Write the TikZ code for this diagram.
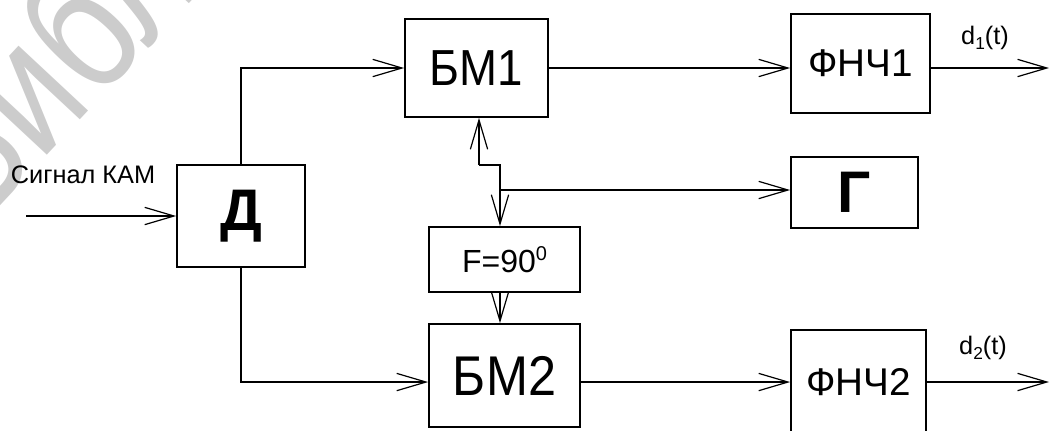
\documentclass[tikz,border=0pt]{standalone}
\usepackage{fontspec}
\setmainfont{Liberation Sans}
\usetikzlibrary{arrows.meta}
\begin{document}
\begin{tikzpicture}[x=0.75pt,y=-0.75pt,
  blk/.style={draw, line width=1.3pt, inner sep=0pt, rectangle},
  wire/.style={line width=1.3pt},
  arr/.style={wire, -{Straight Barb[length=22pt,width=13pt,line width=0.9pt]}},
  lbl/.style={inner sep=0pt}]
\useasboundingbox (0,0) rectangle (1051,430);
\clip (0,0) rectangle (1051,430);
% background watermark
\node[black!20, rotate=47, anchor=base west, inner sep=0pt,
      font=\fontsize{135}{135}\selectfont] (wm) at (-24,232) {\scalebox{0.8}[1]{Библиотека}};

% blocks
\node[blk, minimum width=96pt, minimum height=76.5pt,
      font=\fontsize{44}{44}\selectfont\bfseries] (D) at (241,216) {Д};
\node[blk, minimum width=107.25pt, minimum height=73.5pt,
      font=\fontsize{38}{38}\selectfont] (BM1) at (476.5,68) {\scalebox{0.9}[1]{БМ1}};
\node[blk, minimum width=104.25pt, minimum height=74.25pt,
      font=\fontsize{29}{29}\selectfont] (F1) at (860.5,63.5) {ФНЧ1};
\node[blk, minimum width=95.25pt, minimum height=53.25pt,
      font=\fontsize{44}{44}\selectfont\bfseries] (G) at (854.5,192.5) {Г};
\node[blk, minimum width=113.25pt, minimum height=48.75pt,
      font=\fontsize{24}{24}\selectfont] (PH) at (504.5,259.5) {F=90\raisebox{9pt}{\fontsize{15}{15}\selectfont 0}};
\node[blk, minimum width=113.25pt, minimum height=77.25pt,
      font=\fontsize{42}{42}\selectfont] (BM2) at (504.5,375.5) {\scalebox{0.9}[1]{БМ2}};
\node[blk, minimum width=101.25pt, minimum height=78pt,
      font=\fontsize{29}{29}\selectfont] (F2) at (858.5,382) {ФНЧ2};

% labels
\node[lbl, font=\fontsize{19}{19}\selectfont] (sig) at (83,175) {Сигнал КАМ};
\node[lbl, font=\fontsize{19}{19}\selectfont] (d1) at (985,38) {d\raisebox{-4pt}{\fontsize{13}{13}\selectfont 1}(t)};
\node[lbl, font=\fontsize{19}{19}\selectfont] (d2) at (983,348) {d\raisebox{-4pt}{\fontsize{13}{13}\selectfont 2}(t)};

% free ends and junctions
\coordinate (in) at (26,216);
\coordinate (o1) at (1049,68);
\coordinate (o2) at (1049,382);
\coordinate (j1) at (479,165);
\coordinate (j2) at (500,165);
\coordinate (j3) at (500,190);

% signal paths
\draw[arr] (in) -- (D.west);
\draw[arr] (D.north) |- (BM1.west);
\draw[arr] (D.south) |- ([yshift=-4.9pt]BM2.west);
\draw[arr] (BM1.east) -- (BM1.east -| F1.west);
\draw[arr] ([yshift=-4.9pt]BM2.east) -- ([yshift=-4.9pt]BM2.east -| F2.west);
\draw[arr] (F1.east |- o1) -- (o1);
\draw[arr] (F2.east) -- (o2);

% carrier distribution
\draw[arr] (j1) -- (j1 |- BM1.south);
\draw[wire] (j1) -- (j2) -- (j3);
\draw[arr] (j3) -- (j3 -| G.west);
\draw[arr] (j3) -- (j3 |- PH.north);
\draw[arr] (PH.south -| j3) -- (j3 |- BM2.north);
\end{tikzpicture}
\end{document}
